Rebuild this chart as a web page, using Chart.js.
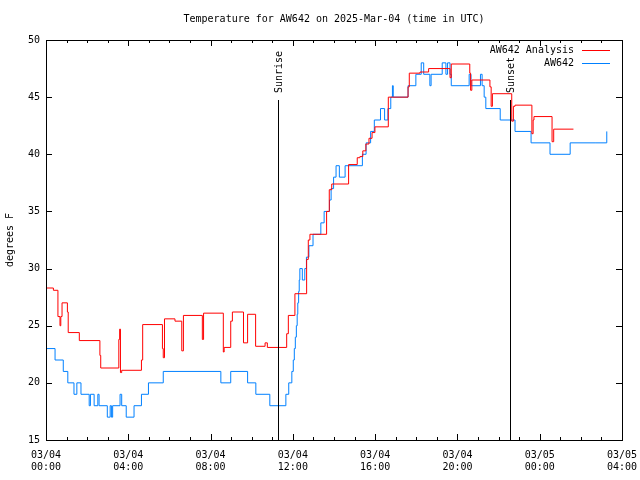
<!DOCTYPE html>
<html>
<head>
<meta charset="utf-8">
<script src="https://cdn.jsdelivr.net/npm/chart.js@4"></script>
<style>
  html, body { margin: 0; padding: 0; background: #fff; }
  #wrap { width: 640px; height: 480px; }
</style>
</head>
<body>
<div id="wrap"><canvas id="myChart" width="640" height="480"></canvas></div>
<script>
// hours since 03/04 00:00 UTC, value holds until next change
const analysisTimes = [0, 0.36, 0.58, 0.68, 0.72, 0.78, 1.04, 1.08, 1.62, 2.62, 2.66, 3.54, 3.58, 3.62, 3.68, 4.64, 4.70, 5.66, 5.70, 5.76, 6.27, 6.60, 6.68, 7.60, 7.66, 8.62, 8.66, 8.98, 9.06, 9.60, 9.80, 10.19, 10.65, 10.76, 11.70, 11.78, 12.10, 12.67, 12.75, 12.83, 13.64, 13.77, 13.89, 14.71, 15.13, 15.26, 15.40, 15.55, 15.70, 15.85, 15.99, 16.64, 17.60, 17.66, 18.18, 18.60, 19.64, 19.70, 20.60, 20.64, 20.70, 21.58, 21.64, 21.70, 22.64, 22.72, 22.80, 23.62, 23.68, 23.72, 24.60, 24.68, 25.64];
const analysisTemps = [28.3, 28.1, 25.8, 25.0, 25.8, 27.0, 26.2, 24.4, 23.7, 22.4, 21.3, 23.8, 24.7, 20.9, 21.1, 22.0, 25.1, 23.0, 22.2, 25.6, 25.4, 22.8, 25.9, 23.8, 26.1, 22.7, 23.1, 25.4, 26.2, 23.5, 26.0, 23.2, 23.5, 23.1, 24.3, 25.9, 27.8, 30.8, 32.5, 33.0, 35.0, 36.9, 37.4, 39.1, 39.7, 39.8, 40.3, 40.9, 41.4, 41.9, 42.4, 45.0, 45.9, 47.1, 47.2, 47.5, 46.7, 47.9, 47.1, 45.6, 46.5, 45.9, 44.2, 45.3, 42.9, 44.2, 44.3, 41.8, 43.0, 43.3, 41.1, 42.2, 42.2];

const stationTimes = [0, 0.44, 0.84, 1.06, 1.36, 1.50, 1.70, 2.10, 2.16, 2.34, 2.52, 2.58, 2.98, 3.12, 3.18, 3.24, 3.60, 3.68, 3.90, 4.28, 4.64, 4.98, 5.70, 8.50, 8.98, 9.80, 10.20, 10.88, 11.66, 11.80, 11.95, 12.02, 12.07, 12.12, 12.17, 12.21, 12.24, 12.28, 12.31, 12.34, 12.46, 12.58, 12.66, 12.78, 12.98, 13.36, 13.52, 13.78, 13.86, 13.98, 14.10, 14.26, 14.54, 15.38, 15.56, 15.78, 15.96, 16.26, 16.46, 16.62, 16.76, 16.84, 16.88, 17.60, 17.98, 18.24, 18.36, 18.66, 18.72, 19.26, 19.44, 19.52, 19.64, 19.70, 20.57, 20.66, 21.12, 21.20, 21.30, 21.38, 22.08, 22.80, 23.58, 24.50, 25.48, 26.69, 27.26];
const stationTemps = [23, 22, 21, 20, 19, 20, 19, 18, 19, 18, 19, 18, 17, 18, 17, 18, 19, 18, 17, 18, 19, 20, 21, 20, 21, 20, 19, 18, 19, 20, 21, 22, 23, 24, 25, 26, 27, 28, 29, 30, 29, 30, 31, 32, 33, 34, 35, 36, 37, 38, 39, 38, 39, 40, 41, 42, 43, 44, 43, 44, 45, 46, 45, 46, 47, 48, 47, 46, 47, 48, 47, 48, 47, 46, 47, 46, 47, 46, 45, 44, 43, 42, 41, 40, 41, 41, 42];

const seriesNames = ['AW642 Analysis', 'AW642'];
const seriesColors = ['#ff0000', '#0080ff'];
const sunTimes = [11.28, 22.56];
const sunLabels = ['Sunrise', 'Sunset'];
const yTicks = [15, 20, 25, 30, 35, 40, 45, 50];
const chartTitle = 'Temperature for AW642 on 2025-Mar-04 (time in UTC)';

const FONT = '"DejaVu Sans Mono", "Liberation Mono", monospace';

function toPoints(ts, vs) {
  return ts.map((t, i) => ({ x: t, y: vs[i] }));
}

function tickLabel(v) {
  const day = v >= 24 ? '03/05' : '03/04';
  const hh = String(v % 24).padStart(2, '0');
  return [day, hh + ':00'];
}

// gnuplot-ish frame, inward ticks, title over plot, sun markers and legend
const decor = {
  id: 'decor',
  afterDatasetsDraw(chart) {
    const { ctx, chartArea: a, scales } = chart;
    const x = scales.x, y = scales.y;
    ctx.save();
    ctx.strokeStyle = '#000';
    ctx.lineWidth = 1;
    ctx.strokeRect(a.left + 0.5, a.top + 0.5, a.right - a.left, a.bottom - a.top);

    ctx.beginPath();
    for (let h = 0; h <= 28; h++) {
      const px = Math.round(x.getPixelForValue(h)) + 0.5;
      const len = h % 4 === 0 ? 6 : 3;
      ctx.moveTo(px, a.bottom); ctx.lineTo(px, a.bottom - len);
      ctx.moveTo(px, a.top); ctx.lineTo(px, a.top + len);
    }
    yTicks.forEach(v => {
      const py = Math.round(y.getPixelForValue(v)) + 0.5;
      ctx.moveTo(a.left, py); ctx.lineTo(a.left + 6, py);
      ctx.moveTo(a.right, py); ctx.lineTo(a.right - 6, py);
    });
    ctx.stroke();

    ctx.font = '10px ' + FONT;
    ctx.fillStyle = '#000';

    // title centred on the plot area
    ctx.textAlign = 'center';
    ctx.textBaseline = 'middle';
    ctx.fillText(chartTitle, (a.left + a.right) / 2, 19);

    // sunrise / sunset
    const topY = a.bottom - 0.85 * (a.bottom - a.top);
    sunTimes.forEach((t, i) => {
      const px = Math.round(x.getPixelForValue(t)) + 0.5;
      ctx.beginPath();
      ctx.moveTo(px, a.bottom);
      ctx.lineTo(px, topY);
      ctx.stroke();
      ctx.save();
      ctx.translate(px + 1, topY - 7);
      ctx.rotate(-Math.PI / 2);
      ctx.textAlign = 'left';
      ctx.textBaseline = 'middle';
      ctx.fillText(sunLabels[i], 0, 0);
      ctx.restore();
    });

    // legend
    ctx.textAlign = 'right';
    ctx.textBaseline = 'middle';
    seriesNames.forEach((name, i) => {
      const ly = a.top + 10 + i * 13;
      ctx.fillStyle = '#000';
      ctx.fillText(name, a.right - 48, ly);
      ctx.strokeStyle = seriesColors[i];
      ctx.beginPath();
      ctx.moveTo(a.right - 40, ly + 0.5);
      ctx.lineTo(a.right - 12, ly + 0.5);
      ctx.stroke();
    });
    ctx.restore();
  }
};

const ctx = document.getElementById('myChart').getContext('2d');
new Chart(ctx, {
  type: 'line',
  data: {
    datasets: [
      {
        label: seriesNames[0],
        data: toPoints(analysisTimes, analysisTemps),
        borderColor: seriesColors[0],
        borderWidth: 1,
        stepped: true,
        pointRadius: 0
      },
      {
        label: seriesNames[1],
        data: toPoints(stationTimes, stationTemps),
        borderColor: seriesColors[1],
        borderWidth: 1,
        stepped: true,
        pointRadius: 0
      }
    ]
  },
  options: {
    responsive: false,
    animation: false,
    layout: { padding: { left: 0, right: 18, top: 40, bottom: 0 } },
    plugins: {
      legend: { display: false },
      tooltip: { enabled: false },
      title: { display: false }
    },
    scales: {
      x: {
        type: 'linear',
        min: 0,
        max: 28,
        grid: { display: false, drawTicks: false },
        border: { display: false },
        ticks: {
          stepSize: 4,
          autoSkip: false,
          maxRotation: 0,
          padding: 9,
          color: '#000',
          font: { family: FONT, size: 10, lineHeight: 1.2 },
          callback: v => tickLabel(v)
        },
        afterFit: s => { s.height = 40; s.paddingLeft = 0; s.paddingRight = 0; }
      },
      y: {
        min: 15,
        max: 50,
        grid: { display: false, drawTicks: false },
        border: { display: false },
        ticks: {
          stepSize: 5,
          padding: 6,
          color: '#000',
          font: { family: FONT, size: 10 }
        },
        title: {
          display: true,
          text: 'degrees F',
          color: '#000',
          font: { family: FONT, size: 10, lineHeight: 1.2 },
          padding: { top: 4, bottom: 0 }
        },
        afterFit: s => { s.width = 46; s.paddingTop = 0; s.paddingBottom = 0; }
      }
    }
  },
  plugins: [decor]
});
</script>
</body>
</html>
